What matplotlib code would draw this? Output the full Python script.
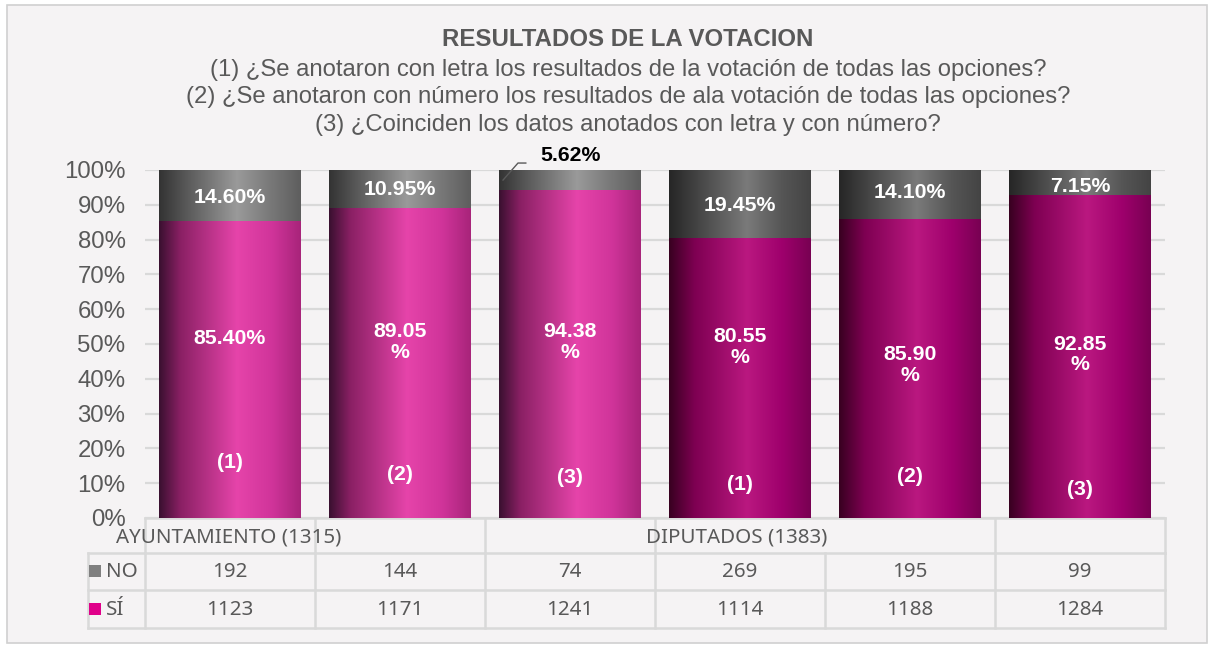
import numpy as np
import matplotlib
matplotlib.use('Agg')
import matplotlib.pyplot as plt
from matplotlib.colors import LinearSegmentedColormap
from matplotlib.patches import Rectangle
from matplotlib.lines import Line2D
import matplotlib.transforms as mtransforms

# data
groups = ['AYUNTAMIENTO (1315)', 'DIPUTADOS (1383)']
questions = ['(1)', '(2)', '(3)', '(1)', '(2)', '(3)']
no_counts = [192, 144, 74, 269, 195, 99]
si_counts = [1123, 1171, 1241, 1114, 1188, 1284]
no_pct = [14.60, 10.95, 5.62, 19.45, 14.10, 7.15]
si_pct = [85.40, 89.05, 94.38, 80.55, 85.90, 92.85]
si_text = ['85.40%', '89.05\n%', '94.38\n%', '80.55\n%', '85.90\n%', '92.85\n%']
no_text = ['14.60%', '10.95%', '', '19.45%', '14.10%', '7.15%']

# label placement (in % units, as in the original layout)
si_lab_y = [51.7, 50.6, 50.6, 49.1, 44.0, 47.0]
q_lab_y = [16.0, 12.6, 11.5, 9.5, 11.8, 8.3]
no_lab_y = [92.2, 94.3, 0, 89.9, 93.4, 95.4]

W, H = 1213, 648
fig = plt.figure(figsize=(W/100, H/100), dpi=100, facecolor='white')
# overlay in pixel coords for frame, titles and table
ov = fig.add_axes([0, 0, 1, 1], zorder=0)
ov.set_xlim(0, W); ov.set_ylim(H, 0); ov.axis('off')
ov.add_patch(Rectangle((7, 5), 1200, 638, facecolor='#f5f3f4', edgecolor='#d0d0d0', lw=1.2))

grey_txt = '#595959'
ov.text(628, 40, 'RESULTADOS DE LA VOTACION', ha='center', va='center', fontsize=17.3,
        fontweight='bold', color=grey_txt, family='Liberation Sans')
subs = ['(1) ¿Se anotaron con letra los resultados de la votación de todas las opciones?',
        '(2) ¿Se anotaron con número los resultados de ala votación de todas las opciones?',
        '(3) ¿Coinciden los datos anotados con letra y con número?']
for i, s in enumerate(subs):
    ov.text(628, 70 + 27.5*i, s, ha='center', va='center', fontsize=17.2,
            color=grey_txt, family='Liberation Sans')

ax = fig.add_axes([145/W, 130/H, 1020/W, 348/H], zorder=1)
ax.patch.set_alpha(0)
for sp in ax.spines.values():
    sp.set_visible(False)

x = np.arange(len(questions))
bw = 0.83

def grad_cmap(stops):
    return LinearSegmentedColormap.from_list('g', stops)

pink_light = grad_cmap([(0, '#3a1030'), (0.15, '#8a2064'), (0.55, '#e644aa'), (0.8, '#d0349a'), (1, '#a8247a')])
pink_dark = grad_cmap([(0, '#380020'), (0.18, '#7e0052'), (0.55, '#ba1880'), (0.8, '#9e006c'), (1, '#780052')])
grey_light = grad_cmap([(0, '#333333'), (0.2, '#5a5a5a'), (0.55, '#9a9a9a'), (0.8, '#777777'), (1, '#5e5e5e')])
grey_dark = grad_cmap([(0, '#262626'), (0.2, '#444444'), (0.55, '#7a7a7a'), (0.8, '#555555'), (1, '#444444')])
grad = np.linspace(0, 1, 256).reshape(1, -1)

si_bars = ax.bar(x, si_pct, bw, color='none', edgecolor='none', zorder=2)
no_bars = ax.bar(x, no_pct, bw, bottom=si_pct, color='none', edgecolor='none', zorder=2)

for i in range(len(x)):
    cm_s = pink_light if i < 3 else pink_dark
    cm_n = grey_light if i < 3 else grey_dark
    for bar, cm in ((si_bars[i], cm_s), (no_bars[i], cm_n)):
        x0, y0 = bar.get_x(), bar.get_y()
        im = ax.imshow(grad, cmap=cm, aspect='auto', zorder=2,
                       extent=(x0, x0 + bar.get_width(), y0, y0 + bar.get_height()))
        im.set_clip_path(bar)

ax.set_xlim(-0.5, 5.5)
ax.set_ylim(0, 100)
ax.set_yticks(np.arange(0, 101, 10))
ax.set_yticklabels([f'{v}%' for v in range(0, 101, 10)], fontsize=17.3, color=grey_txt,
                   family='Liberation Sans')
ax.set_xticks([])
ax.tick_params(axis='y', length=0, pad=14)
ax.grid(axis='y', color='#d9d9d9', lw=1.6, zorder=0)
ax.set_axisbelow(True)

lab = dict(ha='center', va='center', color='white', fontsize=15.3, fontweight='bold',
           family='Liberation Sans', zorder=3)
for i in range(len(x)):
    ax.text(x[i], si_lab_y[i], si_text[i], linespacing=1.1, **lab)
    ax.text(x[i], q_lab_y[i], questions[i], **lab)
    if no_text[i]:
        ax.text(x[i], no_lab_y[i], no_text[i], **lab)

# 5.62% label with leader line
ax.plot([1.606, 1.694, 1.74], [97.1, 102.0, 102.0], color='#595959', lw=1.0, clip_on=False, zorder=3)
ax.text(2.0, 104.3, f'{no_pct[2]:.2f}%', ha='center', va='center', color='black',
        fontsize=15.3, fontweight='bold', family='Liberation Sans')

# data table below the axis
tr = mtransforms.blended_transform_factory(ax.transData, ov.transData)
gcol = '#d9d9d9'
edges = np.arange(len(x) + 1) - 0.5
rows_y = [518, 553, 590, 628]
tf = 'Noto Sans'
tfs = 14.8

def hline(x0, x1, y):
    ov.add_line(Line2D([x0, x1], [y, y], color=gcol, lw=1.8, transform=tr, zorder=1))

def vline(xx, y0, y1):
    ov.add_line(Line2D([xx, xx], [y0, y1], color=gcol, lw=1.8, transform=tr, zorder=1))

left_edge = -0.5 - 57/170
hline(edges[0], edges[-1], rows_y[0])
for yy in rows_y[1:]:
    hline(left_edge, edges[-1], yy)
vline(left_edge, rows_y[1], rows_y[3])
for e in edges:
    vline(e, rows_y[1], rows_y[3])
for e in [edges[0], edges[1], edges[2], edges[3], edges[5], edges[6]]:
    vline(e, rows_y[0], rows_y[1])

ov.text(229, 537, groups[0], ha='center', va='center', fontsize=tfs, color=grey_txt, family=tf)
ov.text(737, 537, groups[1], ha='center', va='center', fontsize=tfs, color=grey_txt, family=tf)

for i in range(len(x)):
    ov.text(x[i], 572, str(no_counts[i]), transform=tr, ha='center', va='center',
            fontsize=tfs, color=grey_txt, family=tf)
    ov.text(x[i], 610, str(si_counts[i]), transform=tr, ha='center', va='center',
            fontsize=tfs, color=grey_txt, family=tf)

ov.add_patch(Rectangle((89, 565), 12, 12, facecolor='#808080', edgecolor='none'))
ov.add_patch(Rectangle((89, 603), 12, 12, facecolor='#e0008a', edgecolor='none'))
ov.text(106, 572, 'NO', ha='left', va='center', fontsize=tfs, color=grey_txt, family=tf)
ov.text(106, 610, 'SÍ', ha='left', va='center', fontsize=tfs, color=grey_txt, family=tf)

fig.savefig('out.png', dpi=100, facecolor=fig.get_facecolor())
